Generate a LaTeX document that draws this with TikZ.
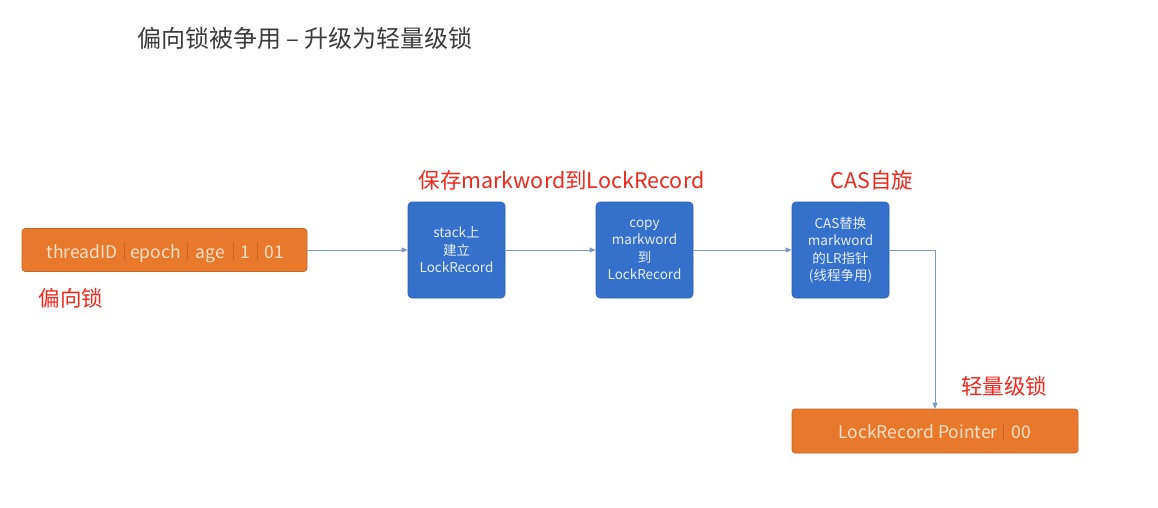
\documentclass[tikz,border=0pt]{standalone}
\usepackage{fontspec}
\setmainfont{Noto Sans CJK SC}
\usetikzlibrary{arrows.meta}
\definecolor{orng}{HTML}{E8792C}
\definecolor{orngtxt}{HTML}{FBE0C6}
\definecolor{orngsep}{HTML}{C9641E}
\definecolor{blu}{HTML}{3570CA}
\definecolor{blutxt}{HTML}{E6EEFA}
\definecolor{conn}{HTML}{7D9AC2}
\definecolor{lblred}{HTML}{F0281E}
\definecolor{ttl}{HTML}{3C3C3C}
\tikzset{
  orbox/.style={draw=orng!85!black, line width=0.6pt, fill=orng, rounded corners=3pt, inner sep=0pt},
  ortxt/.style={text=orngtxt, font=\fontsize{17.5}{20}\selectfont, inner sep=0pt, anchor=base},
  bbox/.style={draw=blu!85!black, line width=0.6pt, fill=blu, rounded corners=4pt, minimum width=97pt, minimum height=96pt, text=blutxt, font=\fontsize{13.5}{17.5}\selectfont, align=center, inner sep=0pt},
  conn/.style={draw=conn, line width=0.8pt, -{Triangle[length=6pt,width=5pt]}},
  redlbl/.style={text=lblred, font=\fontsize{21.5}{24}\selectfont, inner sep=0pt},
  sep/.style={draw=orngsep, line width=0.5pt}
}
\begin{document}
\begin{tikzpicture}[x=1pt,y=-1pt]
\useasboundingbox[fill=white] (0,0) rectangle (1158,508);
\node[text=ttl, font=\fontsize{24}{26}\selectfont, anchor=west, inner sep=0pt] (title) at (137,38) {偏向锁被争用 – 升级为轻量级锁};
% biased lock box
\node[orbox, minimum width=285pt, minimum height=43pt] (bias) at (164.5,250) {};
\node[ortxt] (f1) at (82,258) {threadID};
\node[ortxt] (f2) at (155.5,258) {epoch};
\node[ortxt] (f3) at (210.5,258) {age};
\node[ortxt] (f4) at (245,258) {1};
\node[ortxt] (f5) at (274,258) {01};
\draw[sep] (124,242) -- (124,260);
\draw[sep] (187,242) -- (187,260);
\draw[sep] (233,242) -- (233,260);
\draw[sep] (257,242) -- (257,260);
\node[redlbl] (biaslbl) at (71,298) {偏向锁};
% blue boxes
\node[bbox] (b1) at (456.5,250) {stack上\\建立\\LockRecord};
\node[bbox] (b2) at (644.5,250) {copy\\markword\\到\\LockRecord};
\node[bbox] (b3) at (840.5,250) {CAS替换\\markword\\的LR指针\\(线程争用)};
\node[redlbl] (l1) at (561.5,180) {保存markword到LockRecord};
\node[redlbl] (l2) at (872,180) {CAS自旋};
% lightweight lock box
\node[orbox, minimum width=286pt, minimum height=44pt] (lw) at (935,431) {};
\node[ortxt] (g1) at (918,438.5) {LockRecord Pointer};
\node[ortxt] (g2) at (1021,438.5) {00};
\draw[sep] (1003,423) -- (1003,441);
\node[redlbl] (lwlbl) at (1004,386) {轻量级锁};
% connectors
\draw[conn] (bias.east) -- (b1.west);
\draw[conn] (b1.east) -- (b2.west);
\draw[conn] (b2.east) -- (b3.west);
\coordinate (corner) at (935,250);
\draw[conn] (b3.east) -- (corner) -- (lw.north);
\end{tikzpicture}
\end{document}
